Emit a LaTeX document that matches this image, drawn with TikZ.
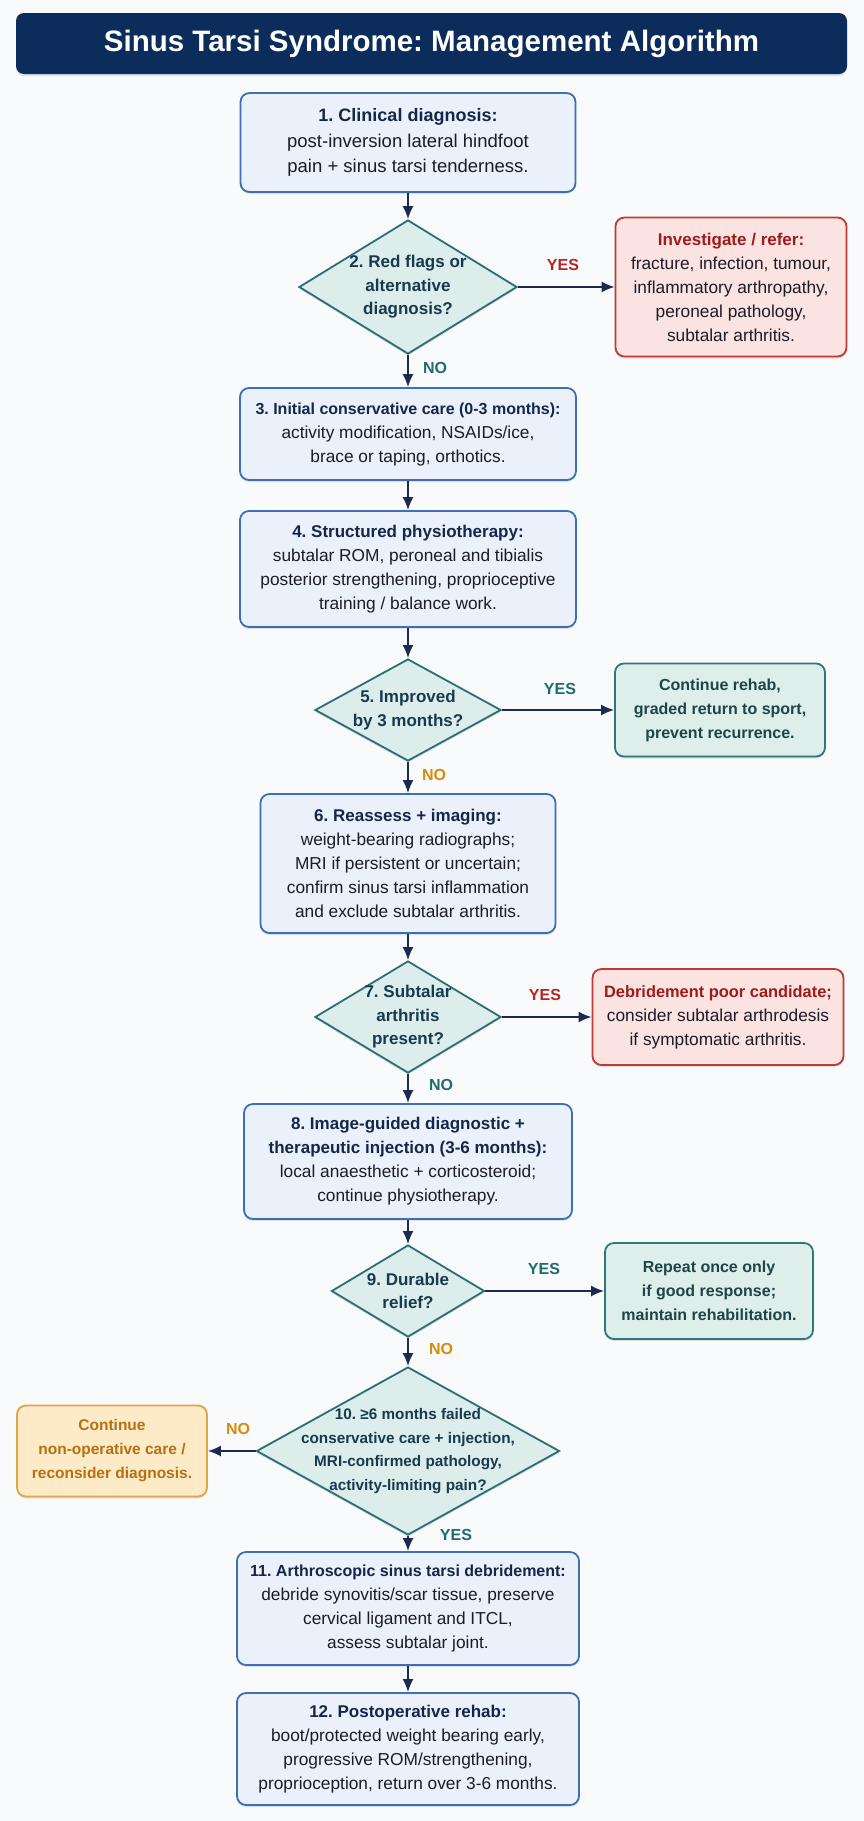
\documentclass[tikz,border=0pt]{standalone}
\usepackage{fontspec}
\setmainfont{Liberation Sans}
\usetikzlibrary{shapes.geometric,arrows.meta,shadows}
\definecolor{bgc}{HTML}{F8FAFC}
\definecolor{titlec}{HTML}{0C2D5B}
\definecolor{arrowc}{HTML}{1B2A4E}
\definecolor{bborder}{HTML}{3C6FB6}
\definecolor{bfillc}{HTML}{EAF1FA}
\definecolor{headc}{HTML}{16264A}
\definecolor{bodyc}{HTML}{1C1C26}
\definecolor{dfillc}{HTML}{DCEDEC}
\definecolor{dborder}{HTML}{2A6F73}
\definecolor{dtextc}{HTML}{173A4E}
\definecolor{rfillc}{HTML}{FBE3E1}
\definecolor{rborder}{HTML}{BF3A33}
\definecolor{rheadc}{HTML}{9E1B1B}
\definecolor{redlab}{HTML}{B5261E}
\definecolor{tfillc}{HTML}{DDEEEB}
\definecolor{tborder}{HTML}{2F7779}
\definecolor{ttextc}{HTML}{1D4548}
\definecolor{teallab}{HTML}{1E6B70}
\definecolor{ofillc}{HTML}{FDEBC8}
\definecolor{oborder}{HTML}{E2A445}
\definecolor{otextc}{HTML}{B5700F}
\definecolor{orangelab}{HTML}{D98A0B}
\frenchspacing
\begin{document}
\begin{tikzpicture}[x=1pt,y=-1pt,
  shad/.style={drop shadow={shadow xshift=0pt,shadow yshift=-2pt,opacity=0.10,fill=black}},
  basebox/.style={shape=rectangle,rounded corners=9pt,line width=1.8pt,align=center,inner sep=0pt,shad},
  box/.style={basebox,draw=bborder,fill=bfillc,text=bodyc,font=\fontsize{17.3}{24}\selectfont},
  redbox/.style={basebox,draw=rborder,fill=rfillc,text=bodyc,font=\fontsize{17.3}{24}\selectfont},
  tealbox/.style={basebox,draw=tborder,fill=tfillc,text=ttextc,font=\bfseries\fontsize{16}{24}\selectfont},
  orangebox/.style={basebox,draw=oborder,fill=ofillc,text=otextc,font=\bfseries\fontsize{15.5}{24}\selectfont},
  dia/.style={shape=diamond,draw=dborder,fill=dfillc,line width=1.8pt,inner sep=0pt,shad},
  dtxt/.style={align=center,text=dtextc,font=\bfseries\fontsize{17}{23.5}\selectfont,inner sep=0pt},
  arr/.style={draw=arrowc,line width=1.8pt,-{Latex[length=13pt,width=11pt]}},
  lab/.style={font=\bfseries\fontsize{16}{18}\selectfont,inner sep=0pt}]
\useasboundingbox (0,0) rectangle (864,1821);
\fill[bgc] (0,0) rectangle (864,1821);
% title
\node[shape=rectangle,rounded corners=8pt,fill=titlec,minimum width=831pt,minimum height=61pt,inner sep=0pt,
  text=white,font=\bfseries\fontsize{29.5}{32}\selectfont,shad] (title) at (431.5,43.5) {Sinus Tarsi Syndrome: Management Algorithm};
% main column
\node[box,minimum width=335pt,minimum height=99pt,font=\fontsize{18.5}{25.5}\selectfont] (b1) at (408,142.5)
  {\textcolor{headc}{\bfseries\fontsize{18}{25.5}\selectfont 1. Clinical diagnosis:}\\post-inversion lateral hindfoot\\pain + sinus tarsi tenderness.};
\node[dia,minimum width=218pt,minimum height=134pt,label={[dtxt]center:2. Red flags or\\alternative\\diagnosis?}] (d2) at (408,287) {};
\node[redbox,minimum width=231pt,minimum height=139pt] (r2) at (731,287)
  {\textcolor{rheadc}{\bfseries\fontsize{17}{24}\selectfont Investigate / refer:}\\fracture, infection, tumour,\\inflammatory arthropathy,\\peroneal pathology,\\subtalar arthritis.};
\node[box,minimum width=336pt,minimum height=92pt] (b3) at (408,434)
  {\textcolor{headc}{\bfseries\fontsize{16}{24}\selectfont 3. Initial conservative care (0-3 months):}\\activity modification, NSAIDs/ice,\\brace or taping, orthotics.};
\node[box,minimum width=336pt,minimum height=116pt] (b4) at (408,569)
  {\textcolor{headc}{\bfseries\fontsize{17}{24}\selectfont 4. Structured physiotherapy:}\\subtalar ROM, peroneal and tibialis\\posterior strengthening, proprioceptive\\training / balance work.};
\node[dia,minimum width=186pt,minimum height=102pt,label={[dtxt]center:5. Improved\\by 3 months?}] (d5) at (408,710) {};
\node[tealbox,minimum width=210pt,minimum height=93pt] (t5) at (720,710)
  {Continue rehab,\\graded return to sport,\\prevent recurrence.};
\node[box,minimum width=295pt,minimum height=139pt] (b6) at (408,863.5)
  {\textcolor{headc}{\bfseries\fontsize{17}{24}\selectfont 6. Reassess + imaging:}\\weight-bearing radiographs;\\MRI if persistent or uncertain;\\confirm sinus tarsi inflammation\\and exclude subtalar arthritis.};
\node[dia,minimum width=186pt,minimum height=112pt,label={[dtxt]center:7. Subtalar\\arthritis\\present?}] (d7) at (408,1017) {};
\node[redbox,minimum width=251pt,minimum height=96pt] (r7) at (718,1017)
  {\textcolor{rheadc}{\bfseries\fontsize{16.4}{24}\selectfont Debridement poor candidate;}\\consider subtalar arthrodesis\\if symptomatic arthritis.};
\node[box,minimum width=328pt,minimum height=115pt] (b8) at (408,1161.5)
  {\textcolor{headc}{\bfseries\fontsize{17}{24}\selectfont 8. Image-guided diagnostic +}\\\textcolor{headc}{\bfseries\fontsize{17}{24}\selectfont therapeutic injection (3-6 months):}\\local anaesthetic + corticosteroid;\\continue physiotherapy.};
\node[dia,minimum width=153pt,minimum height=92pt,label={[dtxt]center:9. Durable\\relief?}] (d9) at (408,1291) {};
\node[tealbox,minimum width=208pt,minimum height=96pt] (t9) at (709,1291)
  {Repeat once only\\if good response;\\maintain rehabilitation.};
\node[dia,minimum width=303pt,minimum height=168pt,label={[dtxt,font=\bfseries\fontsize{15.3}{23.5}\selectfont]center:10. ≥6 months failed\\conservative care + injection,\\MRI-confirmed pathology,\\activity-limiting pain?}] (d10) at (408,1451) {};
\node[orangebox,minimum width=190pt,minimum height=91pt] (o10) at (112,1451)
  {Continue\\non-operative care /\\reconsider diagnosis.};
\node[box,minimum width=342pt,minimum height=113pt] (b11) at (408,1608.5)
  {\textcolor{headc}{\bfseries\fontsize{16}{24}\selectfont 11. Arthroscopic sinus tarsi debridement:}\\debride synovitis/scar tissue, preserve\\cervical ligament and ITCL,\\assess subtalar joint.};
\node[box,minimum width=342pt,minimum height=112pt] (b12) at (408,1749)
  {\textcolor{headc}{\bfseries\fontsize{17}{24}\selectfont 12. Postoperative rehab:}\\boot/protected weight bearing early,\\progressive ROM/strengthening,\\proprioception, return over 3-6 months.};
% connectors
\draw[arr] (b1) -- (d2);
\draw[arr] (d2) -- (r2);
\draw[arr] (d2) -- (b3);
\draw[arr] (b3) -- (b4);
\draw[arr] (b4) -- (d5);
\draw[arr] (d5) -- (t5);
\draw[arr] (d5) -- (b6);
\draw[arr] (b6) -- (d7);
\draw[arr] (d7) -- (r7);
\draw[arr] (d7) -- (b8);
\draw[arr] (b8) -- (d9);
\draw[arr] (d9) -- (t9);
\draw[arr] (d9) -- (d10);
\draw[arr] (d10) -- (o10);
\draw[arr] (d10) -- (b11);
\draw[arr] (b11) -- (b12);
% labels
\node[lab,text=redlab] (y2) at (563,265) {YES};
\node[lab,text=teallab] (n2) at (435,368) {NO};
\node[lab,text=teallab] (y5) at (560,689) {YES};
\node[lab,text=orangelab] (n5) at (434,775) {NO};
\node[lab,text=redlab] (y7) at (545,995) {YES};
\node[lab,text=teallab] (n7) at (441,1085) {NO};
\node[lab,text=teallab] (y9) at (544,1269) {YES};
\node[lab,text=orangelab] (n9) at (441,1349) {NO};
\node[lab,text=orangelab] (n10) at (238,1429) {NO};
\node[lab,text=teallab] (y10) at (456,1535) {YES};
\end{tikzpicture}
\end{document}
